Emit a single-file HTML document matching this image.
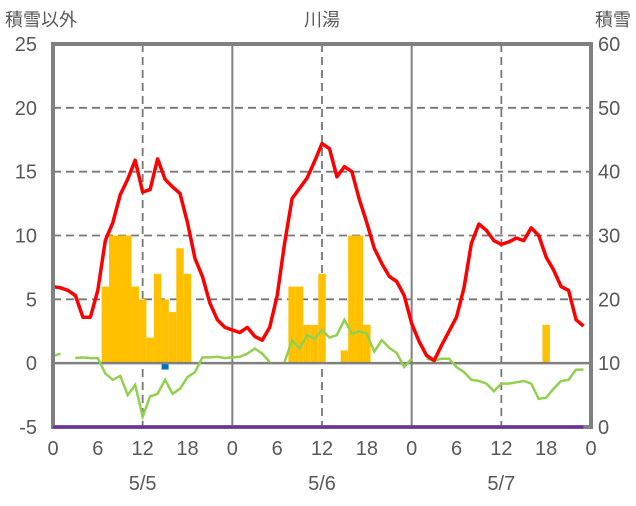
<!DOCTYPE html>
<html><head><meta charset="utf-8"><style>
body{margin:0;background:#fff;}
svg text{font-family:"Liberation Sans","Noto Sans CJK JP",sans-serif;fill:#595959;}
</style></head><body>
<svg id="c" width="636" height="501" xmlns="http://www.w3.org/2000/svg">
<text x="5" y="26" font-size="18">積雪以外</text>
<text x="322" y="26" font-size="18" text-anchor="middle">川湯</text>
<text x="631" y="26" font-size="18" text-anchor="end">積雪</text>
<g id="grid"></g><g id="bars"></g><g id="lines"></g><g id="frame"></g><g id="top"></g><g id="labels"></g>
</svg>
<script>
const hours=[...Array(72).keys()];
const precip=[0,0,0,0,0,0,0,6,10,10,10,6,5,2,7,5,4,9,7,0,0,0,0,0, 0,0,0,0,0,0,0,0,6,6,3,3,7,0,0,1,10,10,3,0,0,0,0,0, 0,0,0,0,0,0,0,0,0,0,0,0,0,0,0,0,0,0,3,0,0,0,0,0];
const negBar=[0,0,0,0,0,0,0,0,0,0,0,0,0,0,0,-0.5,0,0,0,0,0,0,0,0, 0,0,0,0,0,0,0,0,0,0,0,0,0,0,0,0,0,0,0,0,0,0,0,0, 0,0,0,0,0,0,0,0,0,0,0,0,0,0,0,0,0,0,0,0,0,0,0,0];
const temp=[6.0,5.9,5.7,5.3,3.6,3.6,5.7,9.6,11.0,13.2,14.4,15.9,13.4,13.6,16.0,14.4,13.8,13.3,11.0,8.2,6.8,4.7,3.4,2.8,
2.6,2.4,2.8,2.1,1.8,2.8,5.3,9.4,12.9,13.7,14.5,15.8,17.2,16.8,14.6,15.4,15.0,12.8,11.0,9.0,7.8,6.8,6.4,5.3,
3.1,1.7,0.6,0.2,1.4,2.5,3.6,5.9,9.4,10.9,10.4,9.6,9.3,9.5,9.8,9.6,10.6,10.0,8.3,7.3,6.0,5.7,3.4,2.9];
const green=[0.55,0.75,null,0.4,0.45,0.4,0.4,-0.8,-1.3,-1.0,-2.5,-1.7,-4.2,-2.6,-2.4,-1.3,-2.4,-2.0,-1.1,-0.7,0.45,0.45,0.5,0.4,
0.45,0.5,0.75,1.15,0.75,0.1,null,0.1,1.8,1.15,2.2,1.9,2.6,2.0,2.2,3.4,2.3,2.5,2.3,0.9,1.8,1.2,0.8,-0.3,
0.35,null,0.35,0.2,0.35,0.35,-0.3,-0.7,-1.3,-1.4,-1.6,-2.2,-1.6,-1.6,-1.5,-1.4,-1.6,-2.8,-2.7,-2.0,-1.4,-1.3,-0.5,-0.5];
const snow=new Array(72).fill(0);
const leftTicks=[25,20,15,10,5,0,-5];
const rightTicks=[60,50,40,30,20,10,0];
const xTicks=[0,6,12,18,0,6,12,18,0,6,12,18,0];
const dates=["5/5","5/6","5/7"];
const X0=53,X1=591,Y0=44,Y1=427;
const x=h=>X0+(X1-X0)*h/72;
const y=v=>Y1-(v+5)/30*(Y1-Y0);
const y2=v=>Y1-v/60*(Y1-Y0);
const NS="http://www.w3.org/2000/svg";
function mk(t,a,p){const e=document.createElementNS(NS,t);for(const k in a)e.setAttribute(k,a[k]);p.appendChild(e);return e;}
const G=document.getElementById('grid'),B=document.getElementById('bars'),L=document.getElementById('lines'),F=document.getElementById('frame'),TP=document.getElementById('top'),T=document.getElementById('labels');
[5,10,15,20].forEach(v=>{const e=mk('line',{x1:X0,x2:X1,y1:y(v),y2:y(v),stroke:'#777','stroke-width':1.8,'stroke-dasharray':'8,5'},G);

});
[12,36,60].forEach(h=>{const e=mk('line',{x1:x(h),x2:x(h),y1:Y0,y2:Y1,stroke:'#777','stroke-width':1.8,'stroke-dasharray':'8,5'},G);

});
[24,48].forEach(h=>{const e=mk('line',{x1:x(h),x2:x(h),y1:Y0,y2:Y1,stroke:'#808080','stroke-width':2},G);

});
const bw=(X1-X0)/72;
precip.forEach((v,i)=>{if(!v)return;const e=mk('rect',{x:x(i)-bw/2,y:y(v),width:bw,height:y(0)-y(v),fill:'#FFC000'},B);

});
negBar.forEach((v,i)=>{if(!v)return;const e=mk('rect',{x:x(i)-3.5,y:y(0),width:7,height:y(v)-y(0),fill:'#0070C0'},B);

});
const z=mk('line',{x1:X0,x2:X1,y1:y(0),y2:y(0),stroke:'#808080','stroke-width':2.5},B);


function path(arr,fy){let d='',pen=false;arr.forEach((v,i)=>{if(v===null){pen=false;return;}d+=(pen?'L':'M')+x(i).toFixed(1)+','+fy(v).toFixed(1);pen=true;});return d;}
const g=mk('path',{d:path(green,y),fill:'none',stroke:'#92D050','stroke-width':2.5},L);


const r=mk('path',{d:path(temp,y),fill:'none',stroke:'#FF0000','stroke-width':3.5,'stroke-linejoin':'round'},L);


const fr=mk('rect',{x:X0,y:Y0,width:X1-X0,height:Y1-Y0,fill:'none',stroke:'#808080','stroke-width':4},F);


const s=mk('path',{d:path(snow,y2),fill:'none',stroke:'#7030A0','stroke-width':3},TP);


leftTicks.forEach(v=>{const e=mk('text',{x:37,y:y(v)+7,'font-size':20,'text-anchor':'end'},T);e.textContent=v;

});
rightTicks.forEach(v=>{const e=mk('text',{x:598,y:y2(v)+7,'font-size':20},T);e.textContent=v;

});
xTicks.forEach((v,i)=>{const e=mk('text',{x:x(i*6),y:455,'font-size':20,'text-anchor':'middle'},T);e.textContent=v;

});
dates.forEach((v,i)=>{const e=mk('text',{x:x(i*24+12),y:490,'font-size':20,'text-anchor':'middle'},T);e.textContent=v;

});
</script>
</body></html>
